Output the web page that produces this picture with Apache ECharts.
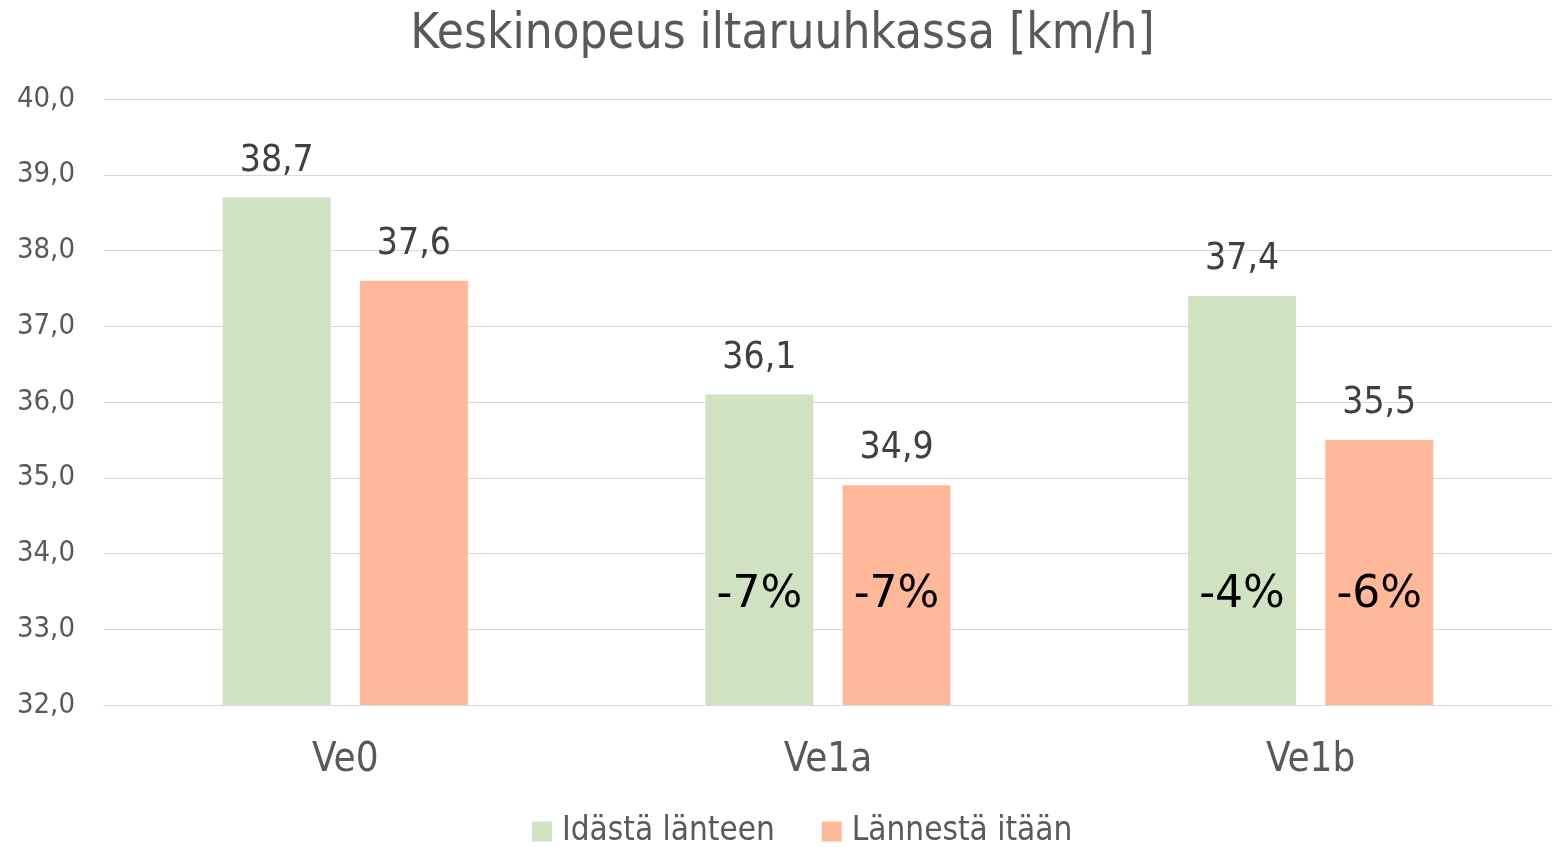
<!DOCTYPE html>
<html><head><meta charset="utf-8">
<script src="https://cdn.jsdelivr.net/npm/echarts@6/dist/echarts.min.js"></script>
<style>html,body{margin:0;padding:0;background:#fff}#c{width:1565px;height:847px}</style>
</head><body><div id="c"></div>
<script>
const categories = ['Ve0', 'Ve1a', 'Ve1b'];
const seriesNames = ['Idästä länteen', 'Lännestä itään'];
const eastToWest = [38.7, 36.1, 37.4];
const westToEast = [37.6, 34.9, 35.5];
const pctEastToWest = ['', '-7%', '-4%'];
const pctWestToEast = ['', '-7%', '-6%'];

const narrow = '"Liberation Sans Narrow", "DejaVu Sans Condensed", "Roboto Condensed", sans-serif';
const fmt = v => v.toFixed(1).replace('.', ',');
const colors = ['#CFE2C1', '#FFB899'];

const chart = echarts.init(document.getElementById('c'));
function pctSeries(data, pct) {
  return {
    type: 'bar', xAxisIndex: 1, barWidth: 108, barGap: '27%', silent: true,
    data: data, itemStyle: { color: 'rgba(0,0,0,0)' },
    label: { show: true, position: 'insideBottom', distance: 87,
      formatter: p => pct[p.dataIndex], color: '#000',
      fontFamily: '"DejaVu Sans", sans-serif', fontSize: 44 }
  };
}
function valueLabel() {
  return { show: true, position: 'top', distance: 18, formatter: p => fmt(p.value),
    fontFamily: narrow, fontSize: 37, color: '#404040' };
}
chart.setOption({
  animation: false,
  color: colors,
  title: { text: 'Keskinopeus iltaruuhkassa [km/h]', left: 'center', top: 6,
    textStyle: { fontFamily: narrow, fontSize: 49, fontWeight: 'normal', color: '#595959' } },
  legend: { bottom: -6, left: 527, itemWidth: 20, itemHeight: 20, itemGap: 47, icon: 'rect',
    textStyle: { fontFamily: narrow, fontSize: 33, color: '#595959', padding: [0, 0, 0, 5] },
    data: seriesNames },
  grid: { left: 104, right: 13, top: 99, bottom: 142, containLabel: false },
  xAxis: [{ type: 'category', data: categories,
    axisLine: { lineStyle: { color: '#D9D9D9', width: 1 } }, axisTick: { show: false },
    axisLabel: { fontFamily: narrow, fontSize: 40, color: '#595959', margin: 36 } },
    { type: 'category', data: categories, show: false }],
  yAxis: { type: 'value', min: 32, max: 40, interval: 1,
    axisLine: { show: false }, axisTick: { show: false },
    splitLine: { lineStyle: { color: '#D9D9D9', width: 1 } },
    axisLabel: { formatter: v => fmt(v), fontFamily: narrow, fontSize: 29, color: '#595959', margin: 29 } },
  series: [
    { name: seriesNames[0], type: 'bar', barWidth: 108, barGap: '27%', data: eastToWest, label: valueLabel() },
    { name: seriesNames[1], type: 'bar', barWidth: 108, barGap: '27%', data: westToEast, label: valueLabel() },
    pctSeries(eastToWest, pctEastToWest),
    pctSeries(westToEast, pctWestToEast)
  ]
});
</script></body></html>
